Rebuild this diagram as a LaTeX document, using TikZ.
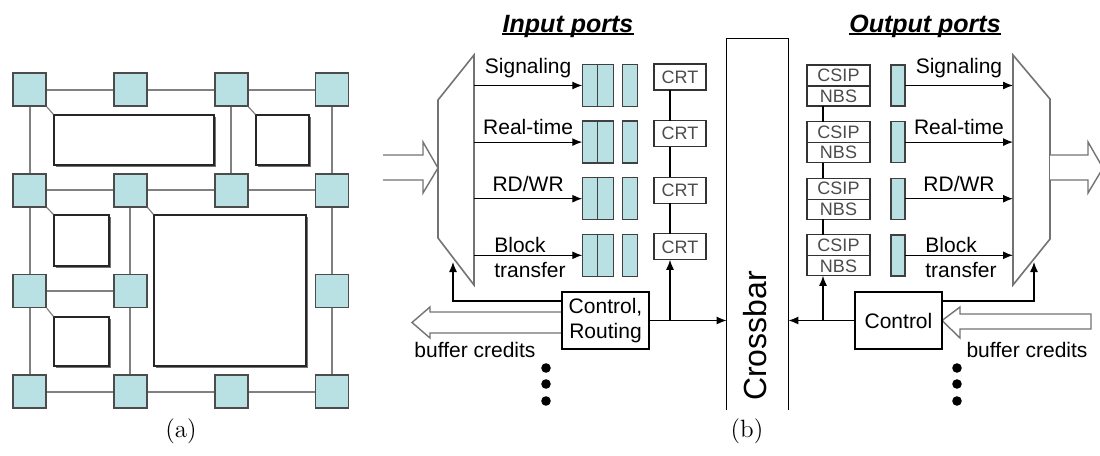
\documentclass[tikz,border=0pt]{standalone}
\usepackage{fontspec}
\newfontfamily\arial{Liberation Sans}
\usetikzlibrary{positioning,shadows,arrows.meta}

\definecolor{routerfill}{RGB}{185,224,227}
\definecolor{linkgray}{RGB}{128,128,128}

\def\dy{56.6}
\def\lblfont{\arial\fontsize{10.5}{12.5}\selectfont}

\tikzset{
	router/.style={draw=black!70,line width=0.9pt,fill=routerfill,minimum size=16.5pt,inner sep=0pt},
	link/.style={draw=linkgray,line width=1pt},
	core/.style={draw=black!85,line width=0.7pt,fill=white,inner sep=0pt,
		drop shadow={shadow xshift=1.1pt,shadow yshift=-1.1pt,fill=black!55,opacity=1}},
	tap/.style={draw=linkgray,line width=0.6pt},
	subcap/.style={font=\fontsize{12.5}{15}\selectfont},
	title/.style={font=\arial\fontsize{12.5}{15}\selectfont\bfseries\itshape,inner sep=0pt,anchor=base},
	lbl/.style={font=\lblfont,inner sep=1pt},
	wire/.style={draw=black,line width=0.6pt},
	mux/.style={draw=black!55,line width=0.8pt,fill=white},
	fat/.style={draw=black!55,line width=0.7pt,fill=white},
	cell/.style={draw=black!75,line width=0.7pt,fill=routerfill,inner sep=0pt,outer sep=0pt,
		minimum width=7.75pt,minimum height=21pt},
	ocell/.style={cell,minimum width=7pt,minimum height=20.5pt},
	small/.style={draw=black!80,line width=0.6pt,fill=white,text=black!70,inner sep=0pt,outer sep=0pt,
		font=\arial\fontsize{9}{10}\selectfont},
	crtbox/.style={small,minimum width=26pt,minimum height=13pt},
	nbsbox/.style={small,minimum width=31.5pt,minimum height=10pt},
	ctlbox/.style={draw=black,line width=0.6pt,fill=white,align=center,inner sep=0pt,
		font=\lblfont,minimum width=43.5pt,minimum height=28.5pt}
}

\begin{document}
\begin{tikzpicture}[x=0.5pt,y=-0.5pt,>={Latex[length=5pt,width=4pt]}]

\useasboundingbox (0,0) rectangle (1100,456);

% (a) mesh of routers and cores
\foreach \c/\r in {0/0,1/0,2/0,3/0,0/1,1/1,2/1,3/1,0/2,1/2,3/2,0/3,1/3,2/3,3/3}{
	\node[router] (s\c\r) at ({29.5+\c*100.8},{89.5+\r*100.7}) {};
}
\foreach \a/\b in {00/10,10/20,20/30,01/11,11/21,21/31,02/12,03/13,13/23,23/33,
		00/01,01/02,02/03,11/12,12/13,20/21,30/31,31/32,32/33}{
	\draw[link] (s\a) -- (s\b);
}

\node[core,minimum width=80pt,minimum height=25pt] (k1) at (134,140) {};
\node[core,minimum width=26.5pt,minimum height=25pt] (k2) at (282.5,140) {};
\node[core,minimum width=27.5pt,minimum height=25.5pt] (k3) at (81.5,240.5) {};
\node[core,minimum width=76pt,minimum height=75.5pt] (k4) at (230,290.5) {};
\node[core,minimum width=27.5pt,minimum height=24.5pt] (k5) at (81.5,341.5) {};
\foreach \s/\k in {00/1,20/2,01/3,11/4,02/5}{
	\draw[tap] (s\s.south east) -- (k\k.north west);
}

\node[subcap] (capa) at (181,431) {(a)};

% (b) input ports
\node[title] (tin) at (568,32) {Input ports};
\draw[line width=0.7pt] ([yshift=-1pt]tin.base west) -- ([yshift=-1pt]tin.base east);

\draw[mux] (438,100) -- (474,55) -- (474,285) -- (438,238) -- cycle;
\draw[fat] (383,155) -- (423,155) -- (423,142) -- (438,168) -- (423,193) -- (423,180) -- (383,180);

\foreach \i in {0,...,3}{
	\node[cell] (qa\i) at (590,{85.5+\i*\dy}) {};
	\node[cell,right=0pt of qa\i] (qb\i) {};
	\node[cell] (qc\i) at (630,{85.5+\i*\dy}) {};
	\coordinate (mi\i) at (474,{85.5+\i*\dy});
	\draw[wire,->] (mi\i) -- (qa\i);
	\node[crtbox] (crt\i) at (680,{77+\i*\dy}) {CRT};
}
\path (mi0) -- (qa0) node[lbl,midway,above=2.5pt] {Signaling};
\path (mi1) -- (qa1) node[lbl,midway,above=2.5pt] {Real-time};
\path (mi2) -- (qa2) node[lbl,midway,above=2.5pt] {RD/WR};
\node[lbl,align=left] (bin) at (530,257) {Block\\transfer};

\foreach \i [count=\j] in {0,1,2}{
	\draw[wire] ([xshift=-5pt]crt\i.south) -- ([xshift=-5pt]crt\j.north);
}

\draw[fat] (562,312) -- (430,312) -- (430,307) -- (412,322.5) -- (430,338) -- (430,333) -- (562,333);
\node[ctlbox] (ctlin) at (605.5,320.5) {Control,\\Routing};
\coordinate (mib) at (453,262);
\draw[wire,->] ([yshift=9.75pt]ctlin.west) -| (mib);
\draw[wire,->] (ctlin.east) -| ([xshift=-5pt]crt3.south);

\node[lbl] (bcin) at (475,350) {buffer credits};
\foreach \y in {368,384,401}{
	\fill (546,\y) circle (2.4pt);
}

% crossbar
\node[minimum width=30.5pt,minimum height=185.5pt,inner sep=0pt] (xbar) at (757.5,224.5) {};
\draw[wire] (xbar.south west) -- (xbar.north west) -- (xbar.north east) -- (xbar.south east);
\node[rotate=90,font=\arial\fontsize{16}{18}\selectfont] (xlbl) at (755,336) {Crossbar};
\draw[wire,->] (ctlin.east) -- (ctlin.east -| xbar.west);

% (b) output ports
\node[title] (tout) at (925,32) {Output ports};
\draw[line width=0.7pt] ([yshift=-1pt]tout.base west) -- ([yshift=-1pt]tout.base east);

\draw[mux] (1013,55) -- (1050,99) -- (1050,239) -- (1013,285) -- cycle;
\draw[fat] (1050,155) -- (1088,155) -- (1088,142) -- (1103,168) -- (1088,193) -- (1088,180) -- (1050,180);

\foreach \i in {0,...,3}{
	\node[nbsbox,minimum height=10.5pt] (csip\i) at (838.5,{75.5+\i*\dy}) {CSIP};
	\node[nbsbox,below=0pt of csip\i] (nbs\i) {NBS};
	\node[ocell] (oc\i) at (898,{85.5+\i*\dy}) {};
	\coordinate (mo\i) at (1013,{85.5+\i*\dy});
	\draw[wire,->] (oc\i) -- (mo\i);
}
\path (oc0) -- (mo0) node[lbl,midway,above=2.5pt] {Signaling};
\path (oc1) -- (mo1) node[lbl,midway,above=2.5pt] {Real-time};
\path (oc2) -- (mo2) node[lbl,midway,above=2.5pt] {RD/WR};
\node[lbl,align=left] (bout) at (961,257) {Block\\transfer};

\foreach \i [count=\j] in {0,1,2}{
	\draw[wire] ([xshift=-7.75pt]nbs\i.south) -- ([xshift=-7.75pt]csip\j.north);
}

\draw[fat] (1091,314) -- (960,314) -- (960,307) -- (942,320.5) -- (960,338) -- (960,329) -- (1091,329) -- cycle;
\node[ctlbox] (ctlout) at (898.5,320.5) {Control};
\coordinate (mob) at (1034,262);
\draw[wire,->] ([yshift=9.75pt]ctlout.east) -| (mob);
\draw[wire,->] (ctlout.west) -- (ctlout.west -| xbar.east);
\draw[wire,->] (ctlout.west) -| ([xshift=-7.75pt]nbs3.south);

\node[lbl] (bcout) at (1027,350) {buffer credits};
\foreach \y in {368,384,401}{
	\fill (957,\y) circle (2.4pt);
}

\node[subcap] (capb) at (747,431) {(b)};

\end{tikzpicture}
\end{document}
